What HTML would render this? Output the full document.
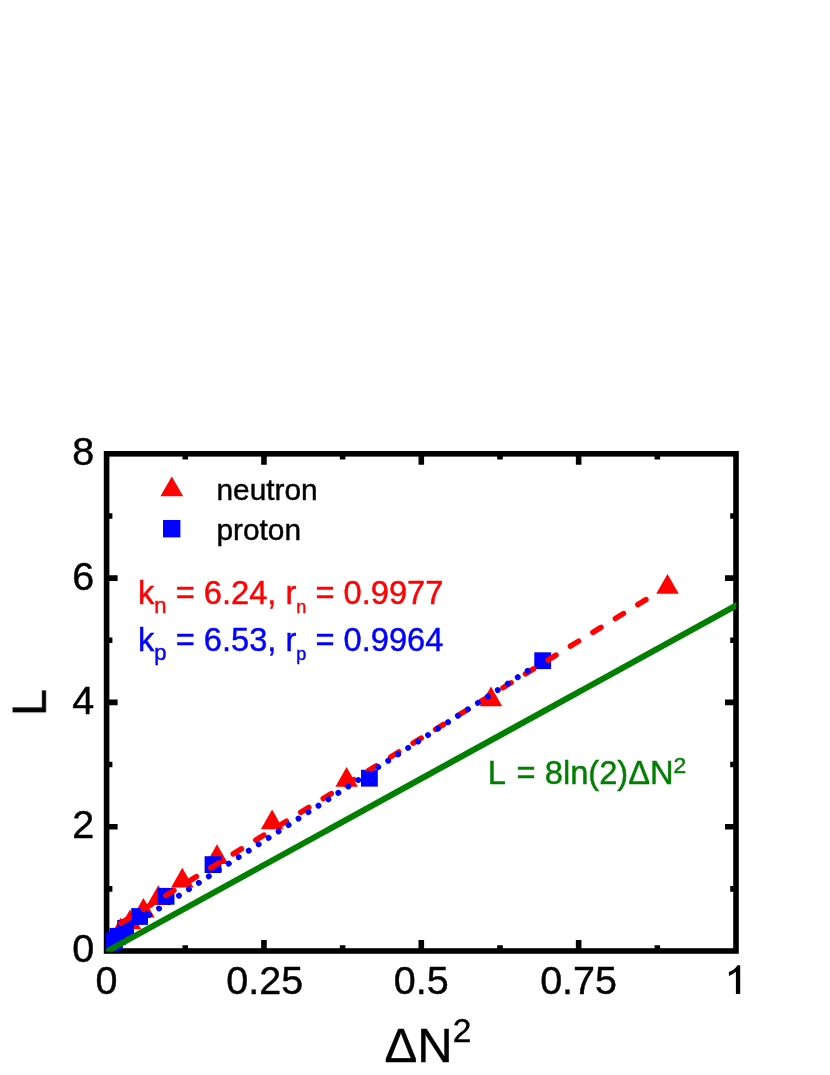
<!DOCTYPE html>
<html><head><meta charset="utf-8"><title>L vs ΔN²</title>
<style>
html,body{margin:0;padding:0;background:#fff;}
body{width:830px;height:1075px;overflow:hidden;font-family:"Liberation Sans",sans-serif;}
svg{display:block;will-change:transform;}
svg text{font-family:"Liberation Sans",sans-serif;stroke-width:0.45px;}
</style></head><body>
<svg width="830" height="1075" viewBox="0 0 830 1075">
<rect x="0" y="0" width="830" height="1075" fill="#fff"/>
<g opacity="0.999">
<rect x="106.6" y="453.8" width="629.4" height="497.2" fill="none" stroke="#000" stroke-width="5.6"/>
<path d="M185.27 951.0v-5.8M185.27 453.8v5.8M263.95 951.0v-11.0M263.95 453.8v11.0M342.62 951.0v-5.8M342.62 453.8v5.8M421.30 951.0v-11.0M421.30 453.8v11.0M499.98 951.0v-5.8M499.98 453.8v5.8M578.65 951.0v-11.0M578.65 453.8v11.0M657.33 951.0v-5.8M657.33 453.8v5.8M106.6 888.85h5.8M736.0 888.85h-5.8M106.6 826.70h11.0M736.0 826.70h-11.0M106.6 764.55h5.8M736.0 764.55h-5.8M106.6 702.40h11.0M736.0 702.40h-11.0M106.6 640.25h5.8M736.0 640.25h-5.8M106.6 578.10h11.0M736.0 578.10h-11.0M106.6 515.95h5.8M736.0 515.95h-5.8" stroke="#000" stroke-width="5.6" fill="none"/>
<clipPath id="c"><rect x="106.14999999999999" y="453.8" width="630.15" height="497.59999999999997"/></clipPath>
<g clip-path="url(#c)">
<path d="M656.25 593.75L678.75 593.75L667.50 574.05Z" fill="#f00"/>
<path d="M479.75 706.25L502.25 706.25L491.00 686.55Z" fill="#f00"/>
<path d="M335.35 786.75L357.85 786.75L346.60 767.05Z" fill="#f00"/>
<path d="M260.85 829.25L283.35 829.25L272.10 809.55Z" fill="#f00"/>
<path d="M205.75 864.05L228.25 864.05L217.00 844.35Z" fill="#f00"/>
<path d="M171.05 887.55L193.55 887.55L182.30 867.85Z" fill="#f00"/>
<path d="M147.05 904.95L169.55 904.95L158.30 885.25Z" fill="#f00"/>
<path d="M132.15 917.60L154.65 917.60L143.40 897.90Z" fill="#f00"/>
<path d="M118.75 929.20L141.25 929.20L130.00 909.50Z" fill="#f00"/>
<path d="M109.35 937.55L131.85 937.55L120.60 917.85Z" fill="#f00"/>
<path d="M100.25 947.85L122.75 947.85L111.50 928.15Z" fill="#f00"/>
<rect x="534.30" y="652.30" width="16.8" height="16.8" fill="#00f"/>
<rect x="361.00" y="769.80" width="16.8" height="16.8" fill="#00f"/>
<rect x="204.60" y="856.20" width="16.8" height="16.8" fill="#00f"/>
<rect x="157.70" y="887.90" width="16.8" height="16.8" fill="#00f"/>
<rect x="131.20" y="908.10" width="16.8" height="16.8" fill="#00f"/>
<rect x="117.20" y="919.90" width="16.8" height="16.8" fill="#00f"/>
<rect x="109.40" y="927.90" width="16.8" height="16.8" fill="#00f"/>
<rect x="106.00" y="932.40" width="16.8" height="16.8" fill="#00f"/>
<rect x="102.40" y="935.60" width="16.8" height="16.8" fill="#00f"/>
<rect x="100.10" y="938.10" width="16.8" height="16.8" fill="#00f"/>
<rect x="98.90" y="939.60" width="16.8" height="16.8" fill="#00f"/>
<path d="M106.6 932.0L652 595.94" stroke="#f00" stroke-width="5.5" stroke-linecap="round" stroke-dasharray="9.5 16.9" stroke-dashoffset="9.6" fill="none"/>
<path d="M109.19999999999999 940.6235101684143L542.7 661.10" stroke="#00f" stroke-width="5.9" stroke-linecap="round" stroke-dasharray="0.01 11.846" fill="none"/>
<path d="M96.6 957.00L746.0 600.10" stroke="#007f00" stroke-width="6" fill="none"/>
</g>
<text x="106.6" y="994.2" font-size="39.5" fill="#000" stroke="#000" text-anchor="middle" >0</text>
<text x="264.8" y="994.2" font-size="39.5" fill="#000" stroke="#000" text-anchor="middle" >0.25</text>
<text x="421.3" y="994.2" font-size="39.5" fill="#000" stroke="#000" text-anchor="middle" >0.5</text>
<text x="578.6" y="994.2" font-size="39.5" fill="#000" stroke="#000" text-anchor="middle" >0.75</text>
<path d="M735.9 994L740.2 994L740.2 965.3L737.4 965.3Q735 970 728.9 972L728.9 976Q733 974.6 735.9 971.8Z" fill="#000"/>
<text x="94.2" y="962.4" font-size="39.5" fill="#000" stroke="#000" text-anchor="end" >0</text>
<text x="94.2" y="838.1" font-size="39.5" fill="#000" stroke="#000" text-anchor="end" >2</text>
<text x="94.2" y="713.8" font-size="39.5" fill="#000" stroke="#000" text-anchor="end" >4</text>
<text x="94.2" y="589.5" font-size="39.5" fill="#000" stroke="#000" text-anchor="end" >6</text>
<text x="94.2" y="465.2" font-size="39.5" fill="#000" stroke="#000" text-anchor="end" >8</text>
<text x="384.5" y="1062" font-size="49" fill="#000" stroke="#000" text-anchor="start" >ΔN<tspan font-size="33.5" dy="-20">2</tspan></text>
<text transform="translate(45.8,716.2) rotate(-90)" font-size="49" stroke="#000">L</text>
<path d="M160.4 496.2L183.2 496.2L171.8 476.6Z" fill="#f00"/>
<rect x="163" y="520" width="17.4" height="17.4" fill="#00f"/>
<text x="216.5" y="500" font-size="29.8" fill="#000" stroke="#000" text-anchor="start" >neutron</text>
<text x="216.5" y="539.5" font-size="29.8" fill="#000" stroke="#000" text-anchor="start" >proton</text>
<text x="138" y="604" font-size="32.65" fill="#f00" stroke="#f00" text-anchor="start" >k<tspan font-size="22" dy="9">n</tspan><tspan dy="-9"> = 6.24, r</tspan><tspan font-size="18" dy="8.6">n</tspan><tspan dy="-8.6"> = 0.9977</tspan></text>
<text x="138" y="651" font-size="32.65" fill="#00f" stroke="#00f" text-anchor="start" >k<tspan font-size="22" dy="9">p</tspan><tspan dy="-9"> = 6.53, r</tspan><tspan font-size="18" dy="8.6">p</tspan><tspan dy="-8.6"> = 0.9964</tspan></text>
<text x="487.8" y="784" font-size="32.65" fill="#007f00" stroke="#007f00" text-anchor="start" >L <tspan dx="2.8">= 8ln(2)ΔN</tspan><tspan font-size="22.8" dy="-11.3">2</tspan></text>
</g>
</svg>
</body></html>
